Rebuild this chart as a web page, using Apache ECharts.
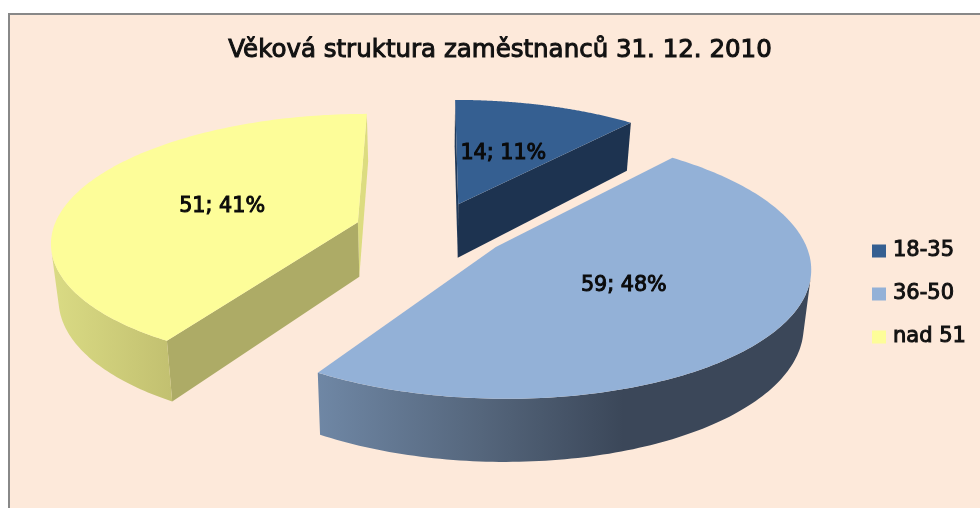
<!DOCTYPE html>
<html><head><meta charset="utf-8">
<style>html,body{margin:0;padding:0;background:#fff}#c{width:980px;height:508px}</style>
<script src="https://cdn.jsdelivr.net/npm/echarts@6/dist/echarts.min.js"></script>
</head><body><div id="c"></div>
<script>
const chartTitle = 'Věková struktura zaměstnanců 31. 12. 2010';
const ageGroups = ['18-35', '36-50', 'nad 51'];
const employeeCounts = [14, 59, 51];
const topColors = ['#355f91', '#93b1d7', '#fdfd99'];
const cutColors = ['#203a5a', '#5f7390', '#adab66'];
const sliverColors = ['#1d3350', '#5f7390', '#dcdc80'];
const rimStops = [
  null,
  [[0, '#6f87a5'], [0.33, '#55667c'], [0.62, '#3b4759'], [1, '#3b4759']],
  [[0, '#dadb84'], [1, '#c2c070']]
];
const fontFamily = '"DejaVu Sans", sans-serif';

// projection of the tilted pie
const view = { cx: 432, cy: 230, A: 305, B: 125.5, k: 0.139, explodeX: 0.255, explodeY: 0.225, labelR: 0.48 };
const total = employeeCounts.reduce((a, b) => a + b, 0);

function project(x, y, bottom) {
  const s = 1 / (1 - view.k * y);
  const px = view.cx + view.A * x * s;
  const py = view.cy + view.B * y * s;
  if (!bottom) return [px, py];
  return [view.cx + (px - view.cx) * 0.98, py + 55 * (1 + 0.13 * y)];
}
function area(p) {
  let a = 0;
  for (let i = 0; i < p.length; i++) {
    const q = p[(i + 1) % p.length];
    a += p[i][0] * q[1] - q[0] * p[i][1];
  }
  return a;
}
function renderSlice(index) {
  return function (params, api) {
    const value = api.value(0);
    let before = 0;
    for (let i = 0; i < index; i++) before += employeeCounts[i];
    const t0 = before / total * 2 * Math.PI;
    const t1 = (before + value) / total * 2 * Math.PI;
    const tm = (t0 + t1) / 2;
    const ox = view.explodeX * Math.sin(tm), oy = -view.explodeY * Math.cos(tm);
    const rim = (t, b) => project(ox + Math.sin(t), oy - Math.cos(t), b);
    const apex = b => project(ox, oy, b);
    const children = [];
    const poly = (points, fill) => children.push({
      type: 'polygon', shape: { points }, style: { fill, stroke: null }, silent: true
    });
    // flat cut faces
    const startFace = [apex(false), rim(t0, false), rim(t0, true), apex(true)];
    const endFace = [apex(false), rim(t1, false), rim(t1, true), apex(true)];
    if (area(endFace) > 0) poly(endFace, sliverColors[index]);
    if (area(startFace) < 0) poly(startFace, cutColors[index]);
    // outer rim, only the part that faces the viewer
    const N = 160;
    const tops = [], bots = [];
    for (let i = 0; i < N; i++) {
      const a = t0 + (t1 - t0) * i / N, b = t0 + (t1 - t0) * (i + 1) / N;
      const q = [rim(a, false), rim(b, false), rim(b, true), rim(a, true)];
      if (area(q) < 0) {
        if (!tops.length) { tops.push(q[0]); bots.push(q[3]); }
        tops.push(q[1]); bots.push(q[2]);
      }
    }
    if (tops.length && rimStops[index]) {
      const pts = tops.concat(bots.slice().reverse());
      const xs = pts.map(p => p[0]);
      const x0 = Math.min(...xs), x1 = Math.max(...xs);
      const stops = rimStops[index].map(s => ({ offset: s[0], color: s[1] }));
      poly(pts, new echarts.graphic.LinearGradient(x0, 0, x1, 0, stops, true));
    }
    // top face
    const top = [apex(false)];
    for (let i = 0; i <= N; i++) top.push(rim(t0 + (t1 - t0) * i / N, false));
    poly(top, topColors[index]);
    // data label
    const lp = project(ox + view.labelR * Math.sin(tm), oy - view.labelR * Math.cos(tm), false);
    children.push({
      type: 'text', silent: true, z2: 10,
      style: {
        x: lp[0], y: lp[1], align: 'center', verticalAlign: 'middle',
        text: value + '; ' + Math.round(value / total * 100) + '%',
        fill: '#0a0a0a', font: '400 20.7px ' + fontFamily,
        stroke: '#0a0a0a', lineWidth: 1
      }
    });
    return { type: 'group', children };
  };
}

const chart = echarts.init(document.getElementById('c'));
chart.setOption({
  animation: false,
  backgroundColor: '#ffffff',
  title: {
    text: chartTitle, left: 495, top: 33, textAlign: 'center',
    textStyle: { fontFamily, fontSize: 24.5, fontWeight: 400, color: '#111', textBorderColor: '#111', textBorderWidth: 1 }
  },
  legend: {
    orient: 'vertical', left: 867, top: 235,
    itemWidth: 14, itemHeight: 13, itemGap: 21, icon: 'rect', selectedMode: false,
    data: ageGroups,
    textStyle: { fontFamily, fontSize: 21, fontWeight: 400, color: '#111', textBorderColor: '#111', textBorderWidth: 1, padding: [0, 0, 0, 2] }
  },
  graphic: [{
    type: 'rect', z: -1, silent: true,
    shape: { x: 9, y: 14, width: 1000, height: 600 },
    style: { fill: '#fde9da', stroke: '#888888', lineWidth: 2 }
  }],
  series: ageGroups.map((name, i) => ({
    type: 'custom', name, coordinateSystem: 'none', silent: true,
    itemStyle: { color: topColors[i] },
    renderItem: renderSlice(i),
    data: [[employeeCounts[i]]]
  }))
});
</script></body></html>
